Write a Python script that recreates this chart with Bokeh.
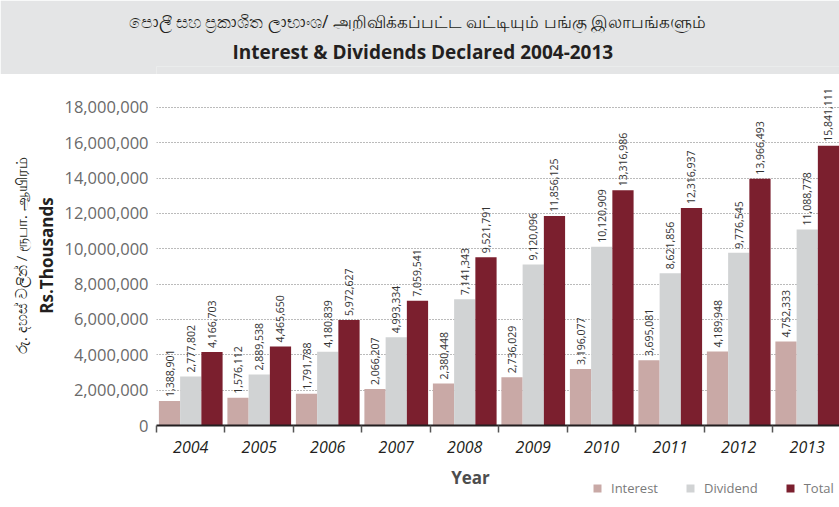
import math
from bokeh.plotting import figure
from bokeh.models import (Range1d, FixedTicker, NumeralTickFormatter, LinearAxis, Grid,
                          Legend, LegendItem, ColumnDataSource, Title)
from bokeh.layouts import column
from bokeh.transform import dodge
from bokeh.core.properties import value
from bokeh.embed import file_html
from bokeh.resources import INLINE

# ---------------- data ----------------
years = ["2004", "2005", "2006", "2007", "2008", "2009", "2010", "2011", "2012", "2013"]
interest = [1388901, 1576112, 1791788, 2066207, 2380448, 2736029, 3196077, 3695081, 4189948, 4752333]
dividend = [2777802, 2889538, 4180839, 4993334, 7141343, 9120096, 10120909, 8621856, 9776545, 11088778]
total = [4166703, 4465650, 5972627, 7059541, 9521791, 11856125, 13316986, 12316937, 13966493, 15841111]
y_ticks = [0, 2000000, 4000000, 6000000, 8000000, 10000000, 12000000, 14000000, 16000000, 18000000]
series_names = ["Interest", "Dividend", "Total"]
title_local = "පොලී සහ ප්‍රකාශිත ලාභාංශ/ அறிவிக்கப்பட்ட வட்டியும் பங்கு இலாபங்களும்"
title_en = "Interest & Dividends Declared 2004-2013"
y_label_local = "රු. දහස් වලින් / ரூபா. ஆயிரம்"
y_label_en = "Rs.Thousands"
x_label = "Year"

colors = ["#c9a9a6", "#d1d3d4", "#7b1f2e"]
FONT = "Open Sans"
BANNER = "#e4e5e6"
FRAME_LEFT = 156
W = 839

# ---------------- banner ----------------
banner = figure(width=W, height=74, x_range=Range1d(0, 1), y_range=Range1d(0, 1),
                toolbar_location=None, output_backend="svg",
                x_axis_location=None, y_axis_location=None,
                min_border_left=FRAME_LEFT, min_border_right=0, min_border_bottom=0,
                min_border_top=66,
                background_fill_color=BANNER, border_fill_color=BANNER,
                outline_line_color=None)
banner.grid.visible = False
banner.add_layout(Title(text=title_en, align="left", offset=76, standoff=3,
                        text_font=FONT, text_font_size="19px", text_font_style="bold",
                        text_color="#231f20"), "above")
banner.add_layout(Title(text=title_local, align="left", offset=-28, standoff=6,
                        text_font=FONT, text_font_size="17.3px", text_font_style="normal",
                        text_color="#231f20"), "above")

# ---------------- main chart ----------------
n = len(years)
xs = [i + 0.5 for i in range(n)]
src = ColumnDataSource(dict(
    x=xs, interest=interest, dividend=dividend, total=total,
    interest_lbl=[f"{v:,}" for v in interest],
    dividend_lbl=[f"{v:,}" for v in dividend],
    total_lbl=[f"{v:,}" for v in total],
))

p = figure(width=W, height=391, x_range=Range1d(0, 9.971), y_range=Range1d(0, 19245000),
           toolbar_location=None, output_backend="svg",
           x_axis_location=None, y_axis_location=None,
           min_border_left=FRAME_LEFT, min_border_right=0, min_border_top=11, min_border_bottom=40,
           outline_line_color=None, background_fill_color="white", border_fill_color="white")
p.grid.visible = False

# y axis (ticks + english label)
yax = LinearAxis(ticker=FixedTicker(ticks=y_ticks), formatter=NumeralTickFormatter(format="0,0"),
                 axis_line_color=None, major_tick_line_color=None, minor_tick_line_color=None,
                 major_tick_out=0, major_tick_in=0,
                 major_label_text_font=FONT, major_label_text_font_size="16.5px",
                 major_label_text_color="#6a6a6a", major_label_standoff=8,
                 axis_label=y_label_en, axis_label_text_font=FONT,
                 axis_label_text_font_size="17px", axis_label_text_font_style="bold",
                 axis_label_text_color="#231f20", axis_label_standoff=3)
p.add_layout(yax, "left")
# outer y axis (local-language label only)
yax2 = LinearAxis(ticker=FixedTicker(ticks=[]), axis_line_color=None,
                  major_tick_line_color=None, minor_tick_line_color=None,
                  major_tick_out=0, major_tick_in=0,
                  major_label_text_font_size="0px",
                  axis_label=y_label_local, axis_label_text_font=FONT,
                  axis_label_text_font_size="15px", axis_label_text_font_style="normal",
                  axis_label_text_color="#231f20", axis_label_standoff=2)
p.add_layout(yax2, "left")

# x axis
xax = LinearAxis(ticker=FixedTicker(ticks=xs, minor_ticks=list(range(n + 1))),
                 major_label_overrides={x: y for x, y in zip(xs, years)},
                 axis_line_color="#231f20", axis_line_width=2,
                 major_tick_line_color=None, major_tick_out=7, major_tick_in=0,
                 minor_tick_line_color="#555555", minor_tick_line_width=1.5,
                 minor_tick_out=7, minor_tick_in=0,
                 major_label_text_font=FONT, major_label_text_font_size="16px",
                 major_label_text_font_style="italic", major_label_text_color="#231f20",
                 major_label_standoff=8)
p.add_layout(xax, "below")

p.add_layout(Grid(dimension=1, ticker=yax.ticker, grid_line_color="#777777",
                  grid_line_dash="1 2", grid_line_width=1))

offsets = [-0.31, 0.0, 0.31]
cols = ["interest", "dividend", "total"]
for off, col, c in zip(offsets, cols, colors):
    p.vbar(x=dodge("x", off, range=p.x_range), top=col, width=0.31, source=src,
           fill_color=c, line_color=None)
    p.text(x=dodge("x", off, range=p.x_range), y=col, text=col + "_lbl", source=src,
           angle=math.pi / 2, text_align="left", text_baseline="middle", y_offset=-4,
           text_font=value(FONT), text_font_size="10.5px", text_color="#333333")

# ---------------- footer: axis title + legend ----------------
foot = figure(width=W, height=41, x_range=Range1d(0, 1), y_range=Range1d(0, 1),
              toolbar_location=None, output_backend="svg",
              x_axis_location=None, y_axis_location=None,
              min_border_left=FRAME_LEFT, min_border_right=0, min_border_top=0, min_border_bottom=0,
              outline_line_color=None, background_fill_color="white", border_fill_color="white")
foot.grid.visible = False
foot.text(x=[0.4597], y=[0.70], text=[x_label], text_align="center", text_baseline="middle",
          text_font=value(FONT), text_font_size="17px", text_font_style="bold",
          text_color="#4d4d4d")
# legend swatches: one zero-height proxy bar per series (only their colour is shown)
proxies = []
for c in colors:
    proxies.append(foot.vbar(x=[0.5], top=[0], bottom=0, width=0.0, fill_color=c,
                             line_color=None))
legend = Legend(items=[LegendItem(label=nm, renderers=[r]) for nm, r in zip(series_names, proxies)],
                orientation="horizontal", location=(436, 9),
                glyph_width=10, glyph_height=10, label_standoff=9, spacing=27,
                padding=0, margin=0, label_text_font=FONT, label_text_font_size="13px",
                label_text_color="#7a7a7a", background_fill_alpha=0, border_line_color=None)
foot.add_layout(legend)

layout = column(banner, p, foot, spacing=0)
open("out.html", "w").write(file_html(layout, INLINE))
